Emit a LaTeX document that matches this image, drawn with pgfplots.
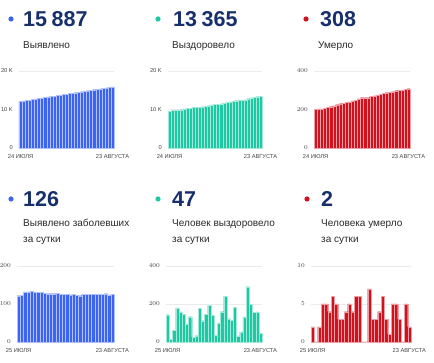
\documentclass[border=0pt]{standalone}
\usepackage{pgfplots}
\pgfplotsset{compat=1.18}
\usepackage{fontspec}
\setmainfont{Liberation Sans}
\definecolor{cblue}{HTML}{3D64F0}
\definecolor{cteal}{HTML}{1EC8A2}
\definecolor{cred}{HTML}{D0121E}
\definecolor{navy}{HTML}{172F6B}
\definecolor{lbl}{HTML}{2A2A2A}
\definecolor{tk}{HTML}{444444}
\pgfplotsset{panel/.style={scale only axis, anchor=south west, clip=false,
  axis line style={draw=none}, major tick length=0pt,
  ymajorgrids, grid style={black!8, line width=0.5pt}, ymin=0,
  tick label style={font=\fontsize{5.7}{6}\selectfont, text=tk},
  xticklabel style={anchor=north, inner sep=0pt, yshift=-6pt},
  yticklabel style={anchor=east, inner sep=0pt, xshift=-6pt},
  scaled ticks=false},
  top/.style={panel, height=77pt, xmin=-0.5, xmax=30.5, xtick={0,30},
  xticklabels={24 ИЮЛЯ, 23 АВГУСТА}},
  bot/.style={panel, height=76pt, xmin=-0.5, xmax=29.5, xtick={0,29},
  xticklabels={25 ИЮЛЯ, 23 АВГУСТА}},
  bars/.style={ybar, bar width=1, fill=#1, draw=white!60!#1, line width=0.15pt}}
\newcommand{\bignum}[1]{{\fontsize{21.5}{24}\selectfont\bfseries\color{navy}#1}}
\newcommand{\lab}{\fontsize{10}{12}\selectfont\color{lbl}}
\begin{document}
\begin{tikzpicture}
\fill[white] (0pt,0pt) rectangle (434pt,363pt);
\useasboundingbox (0pt,0pt) rectangle (434pt,363pt);
% headers top row
\fill[cblue] (11pt,344pt) circle (2.6pt);
\fill[cteal] (158pt,344pt) circle (2.6pt);
\fill[cred] (306pt,344pt) circle (2.6pt);
\node[anchor=base west, inner sep=0pt] at (23pt,336pt) {\bignum{15\kern4.5pt887}};
\node[anchor=base west, inner sep=0pt] at (173pt,336pt) {\bignum{13\kern4.5pt365}};
\node[anchor=base west, inner sep=0pt] at (320pt,336pt) {\bignum{308}};
\node[anchor=base west, inner sep=0pt] at (23pt,314pt) {\lab Выявлено};
\node[anchor=base west, inner sep=0pt] at (172pt,314pt) {\lab Выздоровело};
\node[anchor=base west, inner sep=0pt] at (318pt,314pt) {\lab Умерло};
% headers bottom row
\fill[cblue] (11pt,164pt) circle (2.6pt);
\fill[cteal] (158pt,164pt) circle (2.6pt);
\fill[cred] (307pt,164pt) circle (2.6pt);
\node[anchor=base west, inner sep=0pt] at (23pt,156pt) {\bignum{126}};
\node[anchor=base west, inner sep=0pt] at (172pt,156pt) {\bignum{47}};
\node[anchor=base west, inner sep=0pt] at (321pt,156pt) {\bignum{2}};
\node[anchor=base west, inner sep=0pt] at (23pt,136pt) {\lab Выявлено заболевших};
\node[anchor=base west, inner sep=0pt] at (23pt,120.5pt) {\lab за сутки};
\node[anchor=base west, inner sep=0pt] at (172pt,136pt) {\lab Человек выздоровело};
\node[anchor=base west, inner sep=0pt] at (172pt,120.5pt) {\lab за сутки};
\node[anchor=base west, inner sep=0pt] at (321pt,136pt) {\lab Человека умерло};
\node[anchor=base west, inner sep=0pt] at (321pt,120.5pt) {\lab за сутки};
% panel 1
\begin{axis}[top, at={(19pt,215pt)}, width=95pt, ymax=20000, ytick={0,10000,20000}, yticklabels={0,10 K,20 K}]
\addplot[bars=cblue] coordinates {(0,12086)(1,12208)(2,12331)(3,12463)(4,12595)(5,12728)(6,12860)(7,12991)(8,13122)(9,13250)(10,13377)(11,13504)(12,13631)(13,13759)(14,13885)(15,14011)(16,14137)(17,14261)(18,14387)(19,14510)(20,14632)(21,14757)(22,14883)(23,15009)(24,15134)(25,15259)(26,15384)(27,15510)(28,15637)(29,15761)(30,15887)};
\end{axis}
% panel 2
\begin{axis}[top, at={(168pt,215pt)}, width=94pt, ymax=20000, ytick={0,10000,20000}, yticklabels={0,10 K,20 K}]
\addplot[bars=cteal] coordinates {(0,9577)(1,9721)(2,9735)(3,9798)(4,9977)(5,10135)(6,10281)(7,10377)(8,10510)(9,10535)(10,10568)(11,10745)(12,10857)(13,11003)(14,11196)(15,11338)(16,11375)(17,11475)(18,11635)(19,11877)(20,12000)(21,12114)(22,12298)(23,12330)(24,12383)(25,12515)(26,12806)(27,13004)(28,13160)(29,13318)(30,13365)};
\end{axis}
% panel 3
\begin{axis}[top, at={(314pt,215pt)}, width=96pt, ymax=400, ytick={0,200,400}]
\addplot[bars=cred] coordinates {(0,201)(1,203)(2,203)(3,205)(4,210)(5,215)(6,219)(7,225)(8,230)(9,233)(10,236)(11,240)(12,245)(13,249)(14,255)(15,261)(16,261)(17,261)(18,268)(19,271)(20,274)(21,278)(22,284)(23,287)(24,288)(25,293)(26,298)(27,301)(28,301)(29,306)(30,308)};
\end{axis}
% panel 4
\begin{axis}[bot, at={(17pt,21pt)}, width=97pt, ymax=200, ytick={0,100,200}]
\addplot[bars=cblue] coordinates {(0,122)(1,123)(2,132)(3,132)(4,133)(5,132)(6,131)(7,131)(8,128)(9,127)(10,127)(11,127)(12,128)(13,126)(14,126)(15,126)(16,124)(17,126)(18,123)(19,122)(20,125)(21,126)(22,126)(23,125)(24,125)(25,125)(26,126)(27,127)(28,124)(29,126)};
\end{axis}
% panel 5
\begin{axis}[bot, at={(166pt,21pt)}, width=96pt, ymax=400, ytick={0,200,400}]
\addplot[bars=cteal] coordinates {(0,144)(1,14)(2,63)(3,179)(4,158)(5,146)(6,96)(7,133)(8,25)(9,33)(10,177)(11,112)(12,146)(13,193)(14,142)(15,37)(16,100)(17,160)(18,242)(19,123)(20,114)(21,184)(22,32)(23,53)(24,132)(25,291)(26,198)(27,156)(28,158)(29,47)};
\end{axis}
% panel 6
\begin{axis}[bot, at={(311pt,21pt)}, width=100pt, ymax=10, ytick={0,5,10}]
\addplot[bars=cred] coordinates {(0,2)(1,0)(2,2)(3,5)(4,5)(5,4)(6,6)(7,5)(8,3)(9,3)(10,4)(11,5)(12,4)(13,6)(14,6)(15,0)(16,0)(17,7)(18,3)(19,3)(20,4)(21,6)(22,3)(23,1)(24,5)(25,5)(26,3)(27,0)(28,5)(29,2)};
\end{axis}
\end{tikzpicture}
\end{document}
